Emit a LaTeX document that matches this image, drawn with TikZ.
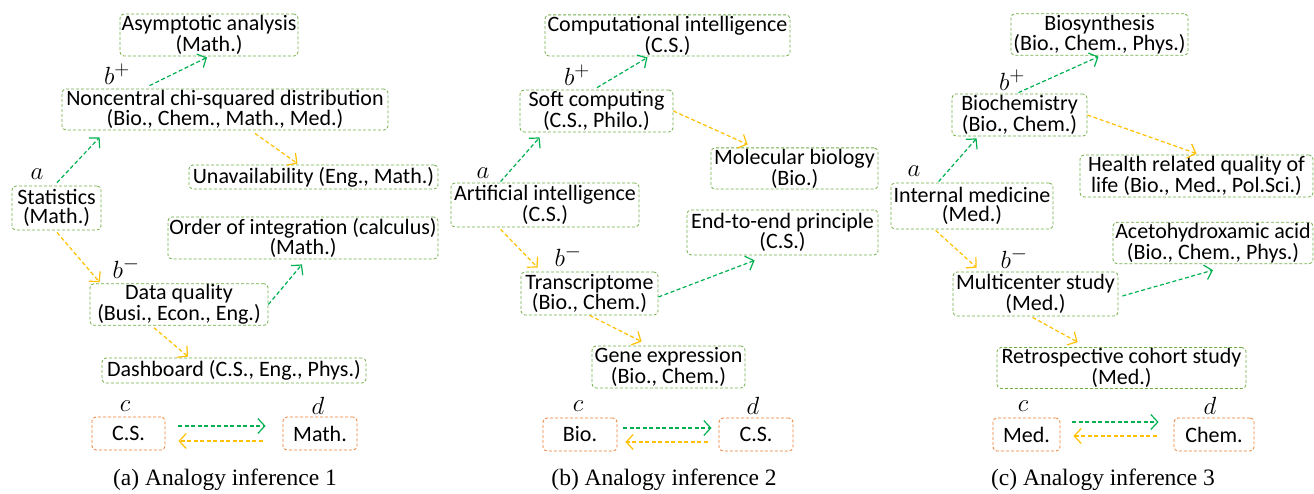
\documentclass[tikz,border=0pt]{standalone}
\usepackage{fontspec}
\setmainfont{Liberation Serif}
\newfontfamily\boxfont{Carlito}
\usetikzlibrary{arrows.meta,calc}
\definecolor{boxgreen}{HTML}{70AD47}
\definecolor{boxorange}{HTML}{ED7D31}
\definecolor{arrgreen}{HTML}{00B050}
\definecolor{arrgold}{HTML}{FFC000}

\begin{document}
\begin{tikzpicture}[x=1pt,y=-1pt,
    concept/.style={draw=boxgreen,line width=0.8pt,dash pattern=on 3pt off 2pt,rounded corners=4pt,
      align=center,inner sep=1pt,font=\boxfont\fontsize{22}{19.5}\selectfont},
    field/.style={concept,draw=boxorange,minimum width=#1,minimum height=33pt},
    greenarr/.style={arrgreen,line width=1.2pt,dash pattern=on 4pt off 2.5pt,-{Straight Barb[length=7pt,width=15pt]}},
    goldarr/.style={greenarr,arrgold},
    lbl/.style={inner sep=0pt,font=\fontsize{28}{28}\selectfont},
    caption/.style={inner sep=0pt,font=\fontsize{23.5}{23.5}\selectfont}]
    \useasboundingbox (0,0) rectangle (1314,494);

    % (a)
    \node[concept,minimum width=178pt,minimum height=42pt] (asym) at (209,35) {Asymptotic analysis\\(Math.)};
    \node[concept,minimum width=326pt,minimum height=41pt] (nonc) at (225,109.5) {Noncentral chi-squared distribution\\(Bio., Chem., Math., Med.)};
    \node[concept,minimum width=249pt,minimum height=24pt] (unav) at (313.5,177) {Unavailability (Eng., Math.)};
    \node[concept,minimum width=89pt,minimum height=44pt] (stat) at (56.5,208) {Statistics\\(Math.)};
    \node[concept,minimum width=270pt,minimum height=40pt] (order) at (303,238) {Order of integration (calculus)\\(Math.)};
    \node[concept,minimum width=178pt,minimum height=41pt] (dq) at (179,304.5) {Data quality\\(Busi., Econ., Eng.)};
    \node[concept,minimum width=264pt,minimum height=25pt] (dash) at (234,370.5) {Dashboard (C.S., Eng., Phys.)};
    \node[field=73pt] (ca) at (128.5,433.5) {C.S.};
    \node[field=74pt] (da) at (320,433.5) {Math.};
    \node[lbl] at (37,174) {$a$};
    \node[lbl] at (117,74) {$b^{+}$};
    \node[lbl] at (126,268) {$b^{-}$};
    \node[lbl] at (125,406) {$c$};
    \node[lbl] at (318,406) {$d$};
    \draw[greenarr] ($(stat.north)+(0.5,-3)$) -- ($(nonc.south west)+(38,7)$);
    \draw[greenarr] ($(nonc.north west)+(88,-3)$) -- ($(asym.south)+(-2,1)$);
    \draw[goldarr] ($(nonc.south)+(30,3)$) -- ($(unav.north)+(-16,-1)$);
    \draw[goldarr] ($(stat.south)+(0.5,2)$) -- ($(dq.north west)+(10,-1)$);
    \draw[greenarr] (dq.east) -- ($(order.south)+(-1,5)$);
    \draw[goldarr] ($(dq.south)+(-25,2)$) -- ($(dash.north)+(-46,-1)$);
    \draw[greenarr] ($(ca.east)+(13,-7.5)$) -- ($(da.west)+(-17,-7.5)$);
    \draw[goldarr] ($(da.west)+(-20,7.5)$) -- ($(ca.east)+(13,7.5)$);
    \node[caption] at (225,480) {(a) Analogy inference 1};

    % (b)
    \node[concept,minimum width=245pt,minimum height=41pt] (ci) at (667.5,35.5) {Computational intelligence\\(C.S.)};
    \node[concept,minimum width=153pt,minimum height=42pt] (sc) at (596.5,111) {Soft computing\\(C.S., Philo.)};
    \node[concept,minimum width=167pt,minimum height=41pt] (mb) at (794.5,168.5) {Molecular biology\\(Bio.)};
    \node[concept,minimum width=188pt,minimum height=44pt] (ai) at (545,205) {Artificial intelligence\\(C.S.)};
    \node[concept,minimum width=191pt,minimum height=45pt] (ete) at (782.5,232.5) {End-to-end principle\\(C.S.)};
    \node[concept,minimum width=137pt,minimum height=43pt] (tr) at (589.5,293.5) {Transcriptome\\(Bio., Chem.)};
    \node[concept,minimum width=153pt,minimum height=42pt] (ge) at (668.5,367) {Gene expression\\(Bio., Chem.)};
    \node[field=74pt] (cb) at (580,434.5) {Bio.};
    \node[field=74pt] (db) at (756,434.5) {C.S.};
    \node[lbl] at (483,173) {$a$};
    \node[lbl] at (577,75) {$b^{+}$};
    \node[lbl] at (568,256) {$b^{-}$};
    \node[lbl] at (578,406) {$c$};
    \node[lbl] at (753,406) {$d$};
    \draw[greenarr] ($(ai.north west)+(50,-1)$) -- ($(sc.south west)+(20,5)$);
    \draw[greenarr] ($(sc.north)+(0.5,-2)$) -- ($(ci.south)+(-20,1)$);
    \draw[goldarr] (sc.east) -- ($(mb.north west)+(37,-3)$);
    \draw[goldarr] ($(ai.south west)+(50,2)$) -- ($(tr.north west)+(17,-4)$);
    \draw[greenarr] ($(tr.east)+(0,3.5)$) -- ($(ete.south west)+(68,5)$);
    \draw[goldarr] (tr.south) -- ($(ge.north west)+(50,-4)$);
    \draw[greenarr] ($(cb.east)+(6,-6.5)$) -- ($(db.west)+(-7,-6.5)$);
    \draw[goldarr] ($(db.west)+(-11,7.5)$) -- ($(cb.east)+(8,7.5)$);
    \node[caption] at (664,480) {(b) Analogy inference 2};

    % (c)
    \node[concept,minimum width=177pt,minimum height=41pt] (bs) at (1099.5,34.5) {Biosynthesis\\(Bio., Chem., Phys.)};
    \node[concept,minimum width=135pt,minimum height=42pt] (bc) at (1019.5,115) {Biochemistry\\(Bio., Chem.)};
    \node[concept,minimum width=233pt,minimum height=42pt] (hr) at (1196.5,176) {Health related quality of\\life (Bio., Med., Pol.Sci.)};
    \node[concept,minimum width=162pt,minimum height=46pt] (im) at (972,206) {Internal medicine\\(Med.)};
    \node[concept,minimum width=200pt,minimum height=40pt] (ah) at (1213,243) {Acetohydroxamic acid\\(Bio., Chem., Phys.)};
    \node[concept,minimum width=165pt,minimum height=44pt] (mc) at (1035.5,294) {Multicenter study\\(Med.)};
    \node[concept,minimum width=249pt,minimum height=40pt] (rc) at (1121.5,368) {Retrospective cohort study\\(Med.)};
    \node[field=67pt] (cc) at (1026.5,434.5) {Med.};
    \node[field=80pt] (dc) at (1214,434.5) {Chem.};
    \node[lbl] at (914,171) {$a$};
    \node[lbl] at (1012,80) {$b^{+}$};
    \node[lbl] at (1014,258) {$b^{-}$};
    \node[lbl] at (1023,406) {$c$};
    \node[lbl] at (1210,406) {$d$};
    \draw[greenarr] ($(im.north west)+(48,-1)$) -- ($(bc.south west)+(25,2)$);
    \draw[greenarr] ($(bc.north)+(-1,-1)$) -- ($(bs.south)+(-1,1)$);
    \draw[goldarr] (bc.east) -- ($(hr.north)+(0,-1)$);
    \draw[goldarr] ($(im.south west)+(45,1)$) -- ($(mc.north west)+(24,-4)$);
    \draw[greenarr] ($(mc.east)+(4,2)$) -- ($(ah.south)+(0,6)$);
    \draw[goldarr] ($(mc.south)+(-3,1)$) -- ($(rc.north west)+(81,-5)$);
    \draw[greenarr] ($(cc.east)+(12,-12.5)$) -- ($(dc.west)+(-15,-12.5)$);
    \draw[goldarr] ($(dc.west)+(-17,1.5)$) -- ($(cc.east)+(13,1.5)$);
    \node[caption] at (1103,480) {(c) Analogy inference 3};
\end{tikzpicture}
\end{document}
